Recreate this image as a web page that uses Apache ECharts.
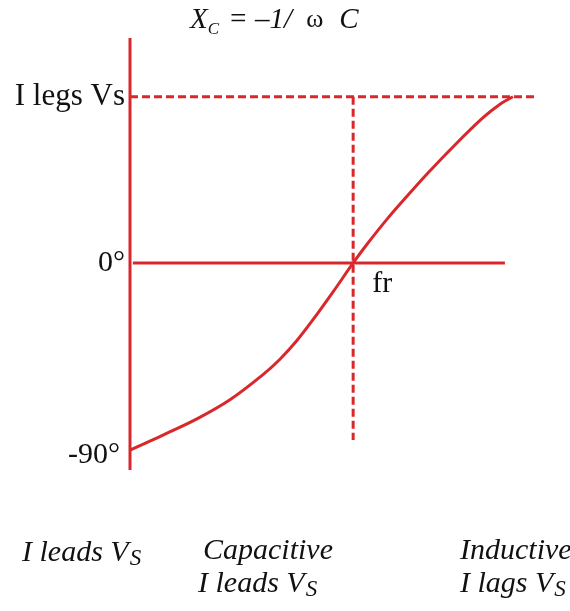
<!DOCTYPE html>
<html>
<head>
<meta charset="utf-8">
<script src="https://cdn.jsdelivr.net/npm/echarts@6/dist/echarts.min.js"></script>
<style>
  html, body { margin: 0; padding: 0; background: #fff; }
  #main { width: 570px; height: 611px; }
</style>
</head>
<body>
<div id="main"></div>
<script>
var chart = echarts.init(document.getElementById("main"));

// phase curve: frequency (fr = 100) vs phase angle in degrees
var freq  = [0, 14.8, 30.0, 44.8, 59.6, 67.2, 74.8, 82.0, 91.0, 100, 106.2, 115.2, 124.2, 133.5, 145.6, 158.2, 165.8, 171.6];
var phase = [-90, -82.8, -75.0, -65.8, -53.7, -46.3, -37.3, -27.3, -13.9, 0, 9.0, 21.1, 32.2, 43.3, 56.8, 69.9, 76.4, 80];

// reference lines
var axisLineX = [0, 0],      axisLineY = [108.3, -99.6];
var zeroLineX = [1.3, 168],  zeroLineY = [0, 0];
var topDashX  = [0, 182.4],  topDashY  = [80, 80];
var frDashX   = [100, 100],  frDashY   = [80, -85.2];

// tick labels
var yTicks = [-90, 0, 80];
var yTickLabels = {"-90": "{low|-90°}", "0": "0°", "80": "{big|I legs Vs}"};
var frPoint = [100, 0];
var frLabel = "fr";

var red = '#d8282c';
var ink = '#111';
var serif = 'Liberation Serif';

function pairs(xs, ys) {
    var out = [];
    for (var i = 0; i < xs.length; i++) out.push([xs[i], ys[i]]);
    return out;
}

function lineSeries(xs, ys, dashed, smooth) {
    return {
        type: 'line',
        data: pairs(xs, ys),
        symbol: 'none',
        smooth: smooth || false,
        lineStyle: { color: red, width: 3, type: dashed ? [8, 4] : 'solid' },
        silent: true
    };
}

// italic text with a subscript, baselines matched by hand
var richText = {
    i: { fontFamily: serif, fontStyle: 'italic', fontWeight: 'normal', fontSize: 30, color: ink, lineHeight: 34 },
    s: { fontFamily: serif, fontStyle: 'italic', fontWeight: 'normal', fontSize: 23, color: ink, lineHeight: 10, verticalAlign: 'bottom', padding: [0, 0, 0, 1] }
};

function note(text, left, top) {
    return {
        text: text,
        left: left,
        top: top,
        padding: 0,
        textStyle: { rich: richText, fontWeight: 'normal' }
    };
}

var option = {
    animation: false,
    backgroundColor: '#fff',
    title: [
        {
            text: '{x|X}{c|C}{t| = –1/}{w|ω}{t|C}',
            left: 190,
            top: 2,
            padding: 0,
            textStyle: {
                fontWeight: 'normal',
                rich: {
                    x: { fontFamily: serif, fontStyle: 'italic', fontWeight: 'normal', fontSize: 29, color: ink, lineHeight: 34 },
                    c: { fontFamily: serif, fontStyle: 'italic', fontWeight: 'normal', fontSize: 17, color: ink, lineHeight: 7, verticalAlign: 'bottom', padding: [0, 2, 0, 0] },
                    t: { fontFamily: serif, fontStyle: 'italic', fontWeight: 'normal', fontSize: 29, color: ink, lineHeight: 34 },
                    w: { fontFamily: serif, fontWeight: 'normal', fontSize: 26, color: ink, lineHeight: 36, padding: [0, 16, 0, 14] }
                }
            }
        },
        note('{i|I leads V}{s|S}', 22, 536),
        note('{i|Capacitive}', 203, 534),
        note('{i|I leads V}{s|S}', 198, 567),
        note('{i|Inductive}', 460, 534),
        note('{i|I lags V}{s|S}', 460, 567)
    ],
    grid: {
        left: 130,
        right: 16,
        top: 34.4,
        bottom: 140.2,
        containLabel: false,
        outerBoundsMode: 'none'
    },
    xAxis: {
        type: 'value',
        min: 0,
        max: 190,
        axisLine: { show: false },
        axisTick: { show: false },
        splitLine: { show: false },
        axisLabel: { show: false }
    },
    yAxis: {
        type: 'value',
        min: -100,
        max: 110,
        axisLine: { show: false },
        axisTick: { show: false },
        splitLine: { show: false },
        axisLabel: {
            customValues: yTicks,
            formatter: function (v) { return yTickLabels[String(v)] || ''; },
            fontFamily: serif,
            fontSize: 30,
            color: ink,
            margin: 5,
            rich: {
                low: { fontFamily: serif, fontSize: 30, color: ink, padding: [10, 5, 0, 0] },
                big: { fontFamily: serif, fontSize: 31, color: ink }
            }
        }
    },
    series: [
        lineSeries(axisLineX, axisLineY, false),
        lineSeries(zeroLineX, zeroLineY, false),
        lineSeries(topDashX, topDashY, true),
        lineSeries(frDashX, frDashY, true),
        lineSeries(freq, phase, false, 0.3),
        {
            type: 'scatter',
            data: [frPoint],
            symbolSize: 0,
            silent: true,
            itemStyle: { opacity: 1 },
            label: {
                show: true,
                formatter: frLabel,
                position: [19, 6],
                fontFamily: serif,
                fontSize: 30,
                color: ink,
                opacity: 1
            }
        }
    ]
};

chart.setOption(option);
</script>
</body>
</html>
